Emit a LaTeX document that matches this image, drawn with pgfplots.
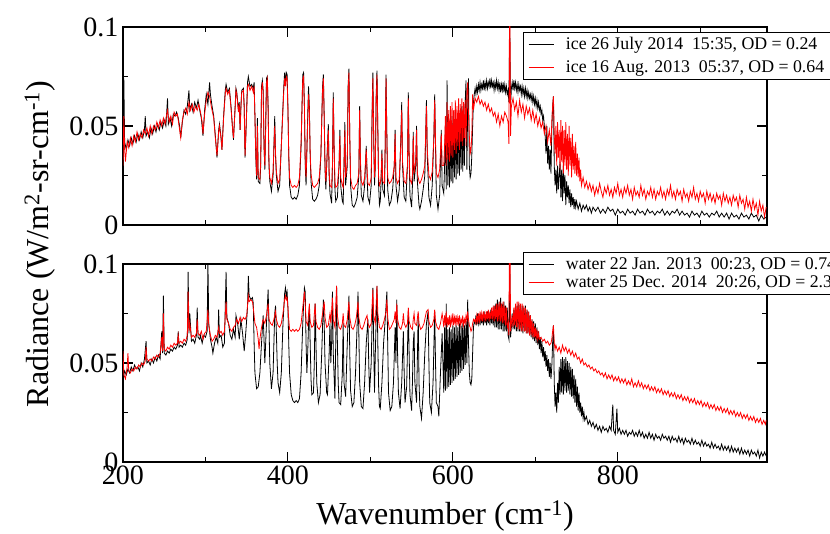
\documentclass[border=0pt]{standalone}
\usepackage{fontspec}
\setmainfont{Liberation Serif}
\usepackage{pgfplots}
\pgfplotsset{compat=1.18}
\pgfplotsset{
  panel/.style={
    scale only axis, width=644pt, height=198pt,
    xmin=200, xmax=981, ymin=0, ymax=100,
    xtick={200,400,600,800}, minor xtick={300,500,700,900},
    ytick={0,50,100}, yticklabels={0,0.05,0.1}, minor ytick={25,75},
    tick align=inside, major tick length=10pt, minor tick length=5pt,
    tick style={black, line width=1.1pt},
    axis line style={line width=1.4pt},
    tick label style={font=\fontsize{28}{30}\selectfont},
    yticklabel style={xshift=-1pt},
    legend cell align=left,
    legend style={anchor=north west, draw=black, line width=0.9pt,
      font=\fontsize{17.8}{19}\selectfont, inner xsep=5pt, inner ysep=3.2pt,
      nodes={inner sep=2pt},
      /tikz/every odd column/.append style={column sep=10pt}},
    legend image code/.code={\draw[#1] (0pt,0pt) -- (25pt,0pt);},
  },
  blk/.style={draw=black, line width=0.8pt, no markers},
  rd/.style={draw=red, line width=0.8pt, no markers},
}
\begin{document}
\begin{tikzpicture}
\useasboundingbox (0pt,0pt) rectangle (830pt,-534pt);
% ---------------- top panel (ice) ----------------
\begin{axis}[panel, at={(123pt,-225pt)}, anchor=south west, xticklabels={},
  legend style={at={(0.6207,0.975)}, row sep=5.5pt}]
\addplot[blk] coordinates {
(200,40)(201,74)(202,42)(204,38)(206,43)(208,40)(210,44)(212,41)(214,45)(216,42)(218,46)(220,43)(222,47)(224,44)(226,48)(227,55)(228,45)(230,47)(232,44)(234,49)(236,46)(238,50)(240,47)(242,51)(244,48)(246,52)(248,49)(250,53)(252,50)(254,64)(255,51)(257,54)(259,50)(261,56)(263,55)(265,57)(267,54)(269,49)(270,44)(272,52)(274,58)(276,56)(278,60)(280,68)(281,58)(283,61)(285,57)(287,62)(289,59)(291,63)(293,58)(295,54)(297,45)(299,58)(301,66)(303,61)(305,72)(306,66)(308,60)
(310,55)(312,45)(314,34)(316,48)(317,51)(319,44)(320,38)(322,55)(324,68)(325,71)(327,67)(329,69)(331,60)(333,48)(334,43)(336,60)(337,69)(338,67)(340,58)(341,62)(342,48)(343,60)(344,68)(346,69)(347,60)(348,34)(349,45)(351,72)(352,75)(354,70)(356,71)(358,69)(359,72)(360,55)(361,35)(362,23)(363,54)(364,22)(366,21)(367,30)(368,70)(369,73)(370,68)(371,40)(372,28)(373,50)(374,74)(375,75)(376,60)(377,30)(378,22)(380,17)(382,25)(384,55)(385,35)(386,25)(388,17)(390,20)(392,40)(395,70)(396,77)(397,72)(398,77)(399,76)(400,60)(401,35)(402,20)(404,14)(406,13)(408,14)(410,13)(412,15)(414,20)(416,40)(418,76)(419,77)(420,60)(421,30)(422,20)(424,55)(425,70)(426,60)(427,35)(428,22)(430,13)(432,12)(434,13)(436,15)(438,20)(440,35)(442,70)(443,76)(444,55)(445,28)(446,18)(447,30)(449,51)(450,25)(451,16)(453,11)(454,30)(455,67)(456,40)(457,18)(458,12)(460,14)(462,30)(463,48)(464,20)(466,12)(467,11)(468,30)(469,52)(470,20)(472,30)(473,70)(474,79)(475,45)(476,20)(478,10)(480,9)(482,11)(484,14)(486,25)(487,60)(488,30)(489,15)(491,12)(493,20)(495,40)(496,25)(497,14)(499,11)(501,20)(502,55)(503,77)(504,45)(505,20)(506,30)(507,65)(508,78)(509,50)(510,20)(511,10)(512,12)(513,22)(514,38)(515,18)(517,15)(518,40)(519,76)(520,45)(521,18)(523,10)(525,12)(527,18)(529,30)(530,48)(531,20)(533,12)(535,18)(537,45)(538,62)(539,30)(541,14)(543,12)(545,30)(546,67)(547,35)(548,15)(550,9)(551,20)(552,47)(553,22)(555,30)(556,50)(557,22)(559,10)(560,8)(562,12)(564,18)(566,25)(568,63)(569,35)(571,14)(573,10)(575,20)(577,45)(578,66)(579,40)(580,15)(582,8)(584,15)(586,48)(587,20)(589,16)(590,30)
(591,50)(592,18)(593,73)(594,20)(595,52)(596,19)(597,48)(598,22)(599,55)(600,21)(601,50)(602,24)(603,57)(604,23)(605,53)(606,26)(607,58)(608,25)(609,56)(610,28)(611,60)(612,27)(613,57)(614,30)(615,62)(616,73)(617,28)(618,60)(619,74)(620,30)(621,24)(622,26)(623,35)(624,50)
(625,62)(626,66)(627,69)(628,66)(629,70)(630,67)(631,71)(632,68)(633,72)(634,68)(635,71)(636,69)(637,73)(638,68)(639,72)(640,69)(641,73)(642,69)(643,72)(644,70)(645,74)(646,69)(647,73)(648,70)(649,72)(650,68)(651,72)(652,69)(653,73)(654,69)(655,72)(656,68)(657,72)(658,67)(659,71)(660,68)(661,72)(662,67)(663,71)(664,67)(665,70)(666,66)(667,68)(668,62)(669,100)(670,60)(671,69)(672,72)(673,68)(674,73)(675,69)(676,72)(677,68)(678,71)(679,67)(680,71)(681,68)(682,70)(683,66)(684,70)(685,66)(686,69)(687,65)(688,69)(689,65)(690,68)(691,64)(692,67)(693,64)(694,66)(695,63)(696,66)(697,62)(698,65)(699,61)(700,64)(701,60)(702,63)(703,59)(704,62)(705,58)(706,60)(707,56)(708,58)(709,53)(710,55)(711,50)(712,45)(713,36)(714,50)(715,31)(716,40)(717,28)(718,38)(719,26)(720,48)(721,60)(722,65)(723,30)(724,20)(725,28)(726,16)(727,30)(728,18)(729,25)(730,32)(731,14)(732,28)(733,12)(734,30)(735,16)(736,25)(737,10)(738,22)(739,14)(740,20)(741,11)(742,18)(743,9)(744,16)(745,10)(746,14)(747,8)(748,13)(749,9)
(750,12)(752,8)(754,11)(756,7)(758,10)(760,8)(762,10)(764,7)(766,9)(768,6)(770,9)(773,7)(776,9)(779,6)(782,8)(785,6)(788,9)(791,7)(794,8)(797,5)(800,8)(803,6)(806,7)(809,5)(812,8)(815,6)(818,7)(821,5)(824,8)(827,6)(830,7)(833,5)(836,8)(839,6)(842,7)(845,5)(848,7)(851,6)(854,8)(857,5)(860,7)(863,5)(866,7)(869,6)(872,8)(875,5)(878,7)(881,5)(884,6)(887,4)(890,7)(893,5)(896,6)(899,4)(902,7)(905,5)(908,6)(911,4)(914,6)(917,5)(920,7)(923,4)(926,6)(929,4)(932,6)(935,3)(938,6)(941,4)(944,5)(947,3)(950,6)(953,4)(956,5)(959,3)(962,6)(965,4)(968,5)(971,2)(974,5)(977,3)(980,4)
};
\addlegendentry{ice 26 July 2014~~15:35, OD = 0.24}
\addplot[rd] coordinates {
(200,30)(201,55)(202,38)(203,32)(205,42)(207,39)(209,44)(211,40)(213,45)(215,42)(217,47)(219,43)(221,46)(223,44)(225,48)(227,46)(229,49)(231,45)(233,50)(235,46)(237,50)(239,48)(241,52)(243,49)(245,53)(247,50)(249,54)(251,51)(253,56)(254,58)(256,52)(258,55)(260,51)(262,57)(264,55)(266,56)(268,50)(270,44)(272,53)(274,57)(276,59)(278,56)(280,62)(282,58)(284,61)(286,57)(288,60)(290,58)(292,61)(294,57)(296,52)(297,46)(299,56)(301,63)(303,67)(305,65)(307,60)
(310,54)(312,44)(314,35)(316,47)(317,50)(319,43)(320,38)(322,54)(324,66)(325,69)(327,66)(329,68)(331,59)(333,48)(334,44)(336,59)(337,68)(338,66)(340,57)(341,61)(342,48)(343,59)(344,67)(346,68)(347,59)(348,35)(349,46)(351,70)(352,71)(354,68)(356,70)(358,67)(359,70)(360,55)(361,36)(362,25)(363,50)(364,24)(366,23)(367,32)(368,68)(369,72)(370,66)(371,40)(372,30)(373,48)(374,72)(375,74)(376,58)(377,32)(378,24)(380,21)(382,27)(384,50)(385,36)(386,27)(388,21)(390,23)(392,40)(395,68)(396,74)(397,70)(398,75)(399,74)(400,58)(401,36)(402,24)(404,20)(406,19)(408,20)(410,19)(412,20)(414,24)(416,42)(418,74)(419,75)(420,60)(421,32)(422,24)(424,52)(425,66)(426,58)(427,36)(428,26)(430,20)(432,19)(434,20)(436,21)(438,24)(440,36)(442,68)(443,74)(444,54)(445,30)(446,22)(447,30)(449,48)(450,27)(451,20)(453,19)(454,30)(455,64)(456,40)(457,22)(458,19)(460,20)(462,30)(463,45)(464,24)(466,20)(467,19)(468,30)(469,48)(470,24)(472,32)(473,68)(474,77)(475,45)(476,24)(478,19)(480,18)(482,20)(484,21)(486,26)(487,58)(488,32)(489,22)(491,20)(493,24)(495,38)(496,28)(497,21)(499,20)(501,24)(502,52)(503,74)(504,45)(505,24)(506,30)(507,62)(508,76)(509,48)(510,24)(511,20)(512,21)(513,25)(514,36)(515,22)(517,21)(518,40)(519,74)(520,45)(521,24)(523,21)(525,22)(527,24)(529,30)(530,46)(531,24)(533,21)(535,23)(537,42)(538,58)(539,32)(541,22)(543,21)(545,30)(546,64)(547,36)(548,23)(550,21)(551,25)(552,45)(553,26)(555,32)(556,48)(557,26)(559,22)(560,21)(562,23)(564,26)(566,30)(568,60)(569,38)(571,25)(573,23)(575,27)(577,44)(578,63)(579,42)(580,26)(582,24)(584,28)(586,46)(587,30)(589,30)(590,40)
(591,55)(592,30)(593,62)(594,33)(595,58)(596,32)(597,60)(598,35)(599,62)(600,34)(601,58)(602,38)(603,63)(604,36)(605,60)(606,40)(607,64)(608,38)(609,61)(610,42)(611,64)(612,40)(613,62)(614,44)(615,63)(616,40)(617,66)(618,72)(619,55)(620,45)(621,36)(622,38)(623,45)(624,66)(625,58)(627,64)(629,62)(631,65)(633,61)(635,63)(637,60)(639,62)(641,58)(643,61)(645,57)(647,59)(649,55)(651,57)(653,52)(655,56)(657,50)(659,55)(661,52)(663,57)(665,55)(667,52)(668,41)(669,130)(670,45)(671,60)(673,64)(675,58)(677,62)(679,55)(681,63)(683,57)(685,61)(687,54)(689,60)(691,56)(693,59)(695,53)(697,58)(699,52)(701,56)(703,50)(705,54)(707,49)(709,52)(711,46)(713,50)(715,42)(717,48)(719,40)(720,52)(721,60)(722,65)(723,45)(724,36)(725,50)(726,30)(727,52)(728,34)(729,48)(730,28)(731,53)(732,32)(733,50)(734,26)(735,48)(736,30)(737,52)(738,28)(739,46)(740,25)(741,50)(742,30)(743,44)(744,24)(745,46)(746,28)(747,40)(748,26)(749,42)(750,25)(751,36)(752,24)(753,34)(754,22)(755,28)
(756,20)(758,24)(760,19)(762,22)(764,18)(766,21)(768,17)(770,20)(772,15)(774,19)(776,16)(778,21)(780,17)(782,14)(784,19)(786,16)(788,20)(790,15)(792,18)(794,14)(796,19)(798,16)(800,21)(802,15)(804,18)(806,14)(808,19)(810,16)(812,20)(814,15)(816,18)(818,13)(820,19)(822,15)(824,17)(826,14)(828,20)(830,15)(832,18)(834,13)(836,17)(838,15)(840,19)(842,14)(844,18)(846,13)(848,17)(850,15)(852,19)(854,14)(856,17)(858,13)(860,18)(862,15)(864,20)(866,14)(868,17)(870,13)(872,18)(874,15)(876,17)(878,12)(880,18)(882,14)(884,16)(886,12)(888,17)(890,14)(892,19)(894,13)(896,16)(898,12)(900,17)(902,14)(904,16)(906,11)(908,17)(910,13)(912,16)(914,12)(916,15)(918,11)(920,16)(922,13)(924,15)(926,10)(928,16)(930,12)(932,15)(934,11)(936,14)(938,10)(940,15)(942,12)(944,14)(946,9)(948,15)(950,11)(952,13)(954,8)(956,14)(958,9)(960,12)(962,7)(964,13)(966,8)(968,11)(970,5)(972,12)(974,7)(976,10)(978,4)(980,9)
};
\addlegendentry{ice 16 Aug. 2013~~05:37, OD = 0.64}
\end{axis}
% ---------------- bottom panel (water) ----------------
\begin{axis}[panel, at={(123pt,-462pt)}, anchor=south west,
  xticklabels={200,400,600,800},
  legend style={at={(0.6207,1.0606)}, row sep=1pt}]
\addplot[blk] coordinates {
(200,42)(202,46)(204,44)(206,47)(208,45)(210,48)(212,46)(214,49)(216,47)(218,48)(220,46)(222,50)(224,48)(226,52)(228,61)(229,50)(231,51)(233,49)(235,52)(237,50)(239,53)(241,51)(243,54)(245,52)(247,66)(248,55)(249,84)(250,55)(252,54)(254,56)(256,55)(258,57)(260,56)(262,58)(264,57)(266,59)(267,66)(268,58)(270,59)(272,58)(274,60)(276,59)(278,62)(279,96)(280,65)(281,75)(283,61)(285,62)(287,60)(289,64)(290,78)(291,63)(293,62)(294,64)(296,60)(298,64)(300,63)(302,66)(303,101)(304,70)(306,62)(308,58)(309,55)(311,60)(313,63)(315,60)(316,77)(317,63)(319,64)(321,58)(323,60)(325,96)(326,73)(328,70)(330,64)(332,62)(334,67)(336,63)(337,74)(339,70)(341,62)(343,72)(345,65)(347,56)(349,66)(351,78)(352,94)(353,84)(355,82)(357,83)(358,80)(359,60)(360,45)(362,37)(364,38)(366,45)(368,60)(370,74)(371,62)(372,50)(374,70)(376,87)(377,70)(378,50)(380,37)(382,45)(384,75)(385,79)(386,65)(387,50)(388,40)(390,35)(392,45)(394,70)(396,85)(397,88)(398,84)(399,86)(400,78)(401,60)(402,45)(404,34)(406,31)(408,30)(410,31)(412,30)(414,32)(416,45)(418,70)(420,88)(421,86)(422,60)(423,45)(424,55)(425,70)(426,78)(427,60)(428,42)(429,34)(431,35)(432,50)(433,80)(434,60)(435,40)(437,30)(439,34)(441,55)(443,82)(444,70)(445,50)(447,35)(448,34)(450,55)(451,70)(452,50)(453,60)(454,86)(455,55)(457,32)(459,89)(460,60)(461,40)(462,30)(464,29)(466,45)(467,70)(468,40)(470,33)(472,60)(474,84)(475,55)(476,36)(478,28)(480,30)(482,45)(484,70)(485,86)(486,65)(487,40)(489,28)(491,27)(493,40)(495,60)(497,72)(498,50)(499,35)(501,50)(503,88)(504,60)(505,35)(506,55)(508,89)(509,60)(510,38)(511,28)(512,27)(514,40)(516,60)(518,72)(520,86)(521,60)(522,35)(524,26)(526,28)(528,40)(530,68)(531,50)(532,82)(533,55)(534,35)(536,27)(538,40)(540,66)(541,45)(542,30)(544,38)(546,76)(547,55)(548,34)(550,26)(551,40)(552,60)(553,66)(554,40)(556,30)(558,75)(559,40)(560,28)(562,22)(564,35)(566,55)(568,70)(570,76)(571,50)(572,30)(574,25)(576,40)(578,76)(579,50)(580,30)(582,28)(583,23)(585,45)(587,65)(588,50)
(589,35)(590,68)(591,36)(592,80)(593,37)(594,67)(595,38)(596,68)(597,39)(598,67)(599,40)(600,69)(601,41)(602,68)(603,42)(604,69)(605,43)(606,68)(607,44)(608,70)(609,45)(610,69)(611,46)(612,70)(613,47)(614,69)(615,49)(616,71)(617,50)(618,82)(619,60)(620,45)(621,40)(622,39)(623,42)(624,55)(625,68)(626,71)
(627,70)(628,74)(629,69)(630,75)(631,70)(632,73)(633,69)(634,75)(635,70)(636,74)(637,69)(638,76)(639,70)(640,74)(641,69)(642,76)(643,70)(644,75)(645,69)(646,77)(647,70)(648,76)(649,69)(650,79)(651,68)(652,80)(653,68)(654,82)(655,67)(656,81)(657,67)(658,83)(659,67)(660,80)(661,66)(662,81)(663,66)(664,79)(665,66)(666,78)(667,64)(668,62)(669,100)(670,63)(671,68)(672,75)(673,67)(674,77)(675,67)(676,78)(677,66)(678,79)(679,66)(680,80)(681,66)(682,78)(683,66)(684,79)(685,65)(686,78)(687,66)(688,79)(689,65)(690,77)(691,65)(692,76)(693,64)(694,74)(695,63)(696,72)(697,62)(698,71)(699,61)(700,70)(701,60)(702,68)(703,59)(704,66)(705,57)(706,63)(707,55)(708,61)(709,53)(710,58)(711,51)(712,56)(713,48)(714,54)(715,46)(716,52)(717,43)(718,50)(719,42)(720,48)(721,60)(722,69)(723,40)(724,28)(725,35)(726,25)(727,40)(728,30)(729,48)(730,34)(731,52)(732,35)(733,53)(734,34)(735,52)(736,36)(737,53)(738,35)(739,51)(740,36)(741,50)(742,34)(743,48)(744,33)(745,47)(746,32)(747,44)(748,30)(749,42)(750,28)(751,38)(752,26)(753,35)(754,25)(755,30)(756,23)(757,28)(758,22)(759,25)
(760,21)(762,23)(764,19)(766,21)(768,18)(770,20)(772,17)(774,19)(776,16)(778,18)(780,15)(782,18)(784,16)(786,17)(788,15)(790,18)(792,16)(794,29)(795,16)(797,14)(799,27)(800,15)(802,17)(804,14)(806,16)(808,14)(810,16)(812,13)(814,15)(816,14)(818,16)(820,13)(822,15)(824,13)(826,16)(828,13)(830,15)(832,12)(834,14)(836,12)(838,15)(840,12)(842,14)(844,11)(846,14)(848,12)(850,13)(852,11)(854,14)(856,12)(858,13)(860,11)(862,13)(864,10)(866,13)(868,11)(870,12)(872,10)(874,13)(876,10)(878,12)(880,9)(882,12)(884,10)(886,11)(888,9)(890,12)(892,9)(894,11)(896,9)(898,10)(900,8)(902,11)(904,8)(906,10)(908,8)(910,9)(912,7)(914,10)(916,7)(918,9)(920,7)(922,8)(924,6)(926,9)(928,6)(930,8)(932,6)(934,8)(936,5)(938,8)(940,5)(942,7)(944,5)(946,7)(948,4)(950,7)(952,4)(954,6)(956,4)(958,6)(960,3)(962,6)(964,4)(966,5)(968,3)(970,6)(972,2)(974,5)(976,3)(978,5)(980,3)
};
\addlegendentry{water 22 Jan. 2013~~00:23, OD = 0.74}
\addplot[rd] coordinates {
(200,56)(201,44)(203,42)(205,48)(206,55)(207,46)(209,45)(211,47)(213,46)(215,48)(217,47)(219,49)(221,48)(223,50)(225,49)(227,51)(228,58)(229,52)(231,51)(233,52)(235,51)(237,53)(239,52)(241,54)(243,53)(245,55)(247,63)(248,56)(249,75)(250,57)(252,56)(254,58)(256,57)(258,59)(260,58)(262,60)(264,59)(266,60)(267,64)(268,60)(270,61)(272,60)(274,62)(276,61)(278,64)(279,86)(280,66)(281,70)(283,63)(285,64)(287,63)(289,65)(290,72)(291,65)(293,64)(295,66)(297,62)(299,65)(301,66)(303,77)(304,69)(306,64)(308,61)(310,62)(312,64)(314,63)(316,68)(317,65)(319,66)(321,64)(323,66)(325,81)(326,72)(328,70)(330,67)(332,66)(334,68)(336,69)(338,72)(340,70)(342,73)(344,71)(346,73)(348,72)(350,74)(352,84)(353,81)(355,82)(357,81)(358,78)(360,70)(362,68)(364,62)(365,57)(366,62)(368,68)(370,72)(372,70)(374,74)(376,80)(377,72)(379,70)(381,69)(383,72)(385,76)(386,72)(388,69)(390,68)(392,70)(394,75)(396,82)(397,84)(398,82)(399,83)(400,78)(401,72)(402,67)(404,66)(406,67)(408,66)(410,67)(412,66)(414,67)(416,70)(418,78)(420,86)(421,80)(422,71)(424,69)(426,80)(427,71)(429,68)(431,69)(433,80)(434,71)(436,68)(438,67)(440,69)(442,75)(444,81)(445,73)(447,68)(449,69)(451,75)(452,70)(454,83)(455,72)(457,68)(459,89)(460,74)(462,68)(464,67)(466,70)(467,75)(468,69)(470,68)(472,72)(474,81)(475,73)(477,68)(479,67)(481,69)(483,73)(485,81)(486,73)(488,68)(490,67)(492,69)(494,72)(496,74)(497,70)(499,68)(501,70)(503,87)(504,74)(506,70)(508,89)(509,75)(511,68)(513,67)(515,69)(517,72)(519,76)(520,82)(521,73)(523,67)(525,68)(527,70)(529,72)(530,76)(531,70)(532,80)(533,72)(535,68)(537,67)(539,70)(540,75)(541,70)(543,68)(545,70)(546,78)(547,71)(549,68)(551,67)(552,72)(553,75)(554,70)(556,69)(558,76)(559,70)(561,67)(563,68)(565,70)(567,74)(568,76)(570,77)(571,71)(573,68)(575,69)(577,72)(578,77)(579,71)(581,68)(583,67)(585,70)(587,75)(588,72)
(589,68)(590,74)(591,69)(592,76)(593,68)(594,73)(595,69)(596,74)(597,68)(598,73)(599,70)(600,75)(601,69)(602,73)(603,70)(604,74)(605,69)(606,73)(607,70)(608,74)(609,69)(610,72)(611,70)(612,74)(613,69)(614,72)(615,70)(616,74)(617,71)(618,76)(619,72)(620,69)(621,68)(622,66)(623,67)(624,70)(625,72)(626,71)
(627,72)(628,70)(629,74)(630,71)(631,75)(632,70)(633,76)(634,71)(635,75)(636,71)(637,76)(638,72)(639,75)(640,71)(641,76)(642,72)(643,77)(644,71)(645,76)(646,72)(647,78)(648,72)(649,79)(650,71)(651,79)(652,72)(653,80)(654,71)(655,80)(656,71)(657,81)(658,71)(659,80)(660,70)(661,81)(662,70)(663,79)(664,69)(665,78)(666,68)(667,70)(668,64)(669,140)(670,66)(671,70)(672,74)(673,68)(674,78)(675,69)(676,80)(677,68)(678,81)(679,67)(680,81)(681,67)(682,80)(683,66)(684,80)(685,66)(686,79)(687,66)(688,78)(689,65)(690,77)(691,65)(692,76)(693,64)(694,74)(695,64)(696,72)(697,63)(698,70)(699,63)(700,68)(701,62)(702,67)(703,62)(704,65)(705,62)(707,63)(709,61)(711,62)(713,60)(715,61)(717,59)(719,60)(720,62)(721,66)(722,69)(723,60)(724,57)(725,59)(727,56)(729,58)(731,55)(733,59)(735,56)(737,58)(739,55)(741,57)(743,54)(745,56)(747,53)(749,55)(751,52)(753,53)(755,50)(757,52)(759,49)(761,50)(763,48)(765,49)(767,47)(769,48)(771,46)(773,47)
(775,45)(777,46)(779,44)(781,45)(783,43)(785,45)(787,42)(789,44)(791,42)(793,44)(795,41)(797,43)(799,41)(801,43)(803,40)(805,42)(807,40)(809,42)(811,39)(813,41)(815,39)(817,42)(819,38)(821,40)(823,38)(825,41)(827,38)(829,40)(831,37)(833,39)(835,37)(837,39)(839,36)(841,38)(843,36)(845,38)(847,35)(849,37)(851,35)(853,37)(855,34)(857,36)(859,34)(861,36)(863,33)(865,35)(867,33)(869,35)(871,32)(873,34)(875,32)(877,34)(879,31)(881,33)(883,31)(885,33)(887,30)(889,32)(891,30)(893,32)(895,29)(897,31)(899,29)(901,31)(903,28)(905,30)(907,28)(909,30)(911,27)(913,29)(915,27)(917,29)(919,26)(921,28)(923,26)(925,28)(927,25)(929,27)(931,25)(933,27)(935,24)(937,26)(939,24)(941,26)(943,23)(945,25)(947,23)(949,25)(951,22)(953,24)(955,22)(957,24)(959,21)(961,23)(963,21)(965,23)(967,20)(969,22)(971,20)(973,22)(975,19)(977,21)(979,19)(980,21)
};
\addlegendentry{water 25 Dec. 2014~~20:26, OD = 2.31}
\end{axis}
\node[rotate=90, font=\fontsize{32}{34}\selectfont] at (40pt,-244pt)
  {Radiance (W/m\textsuperscript{2}-sr-cm\textsuperscript{-1})};
\node[font=\fontsize{32}{34}\selectfont] at (445pt,-516pt)
  {Wavenumber (cm\textsuperscript{-1})};
\end{tikzpicture}
\end{document}
